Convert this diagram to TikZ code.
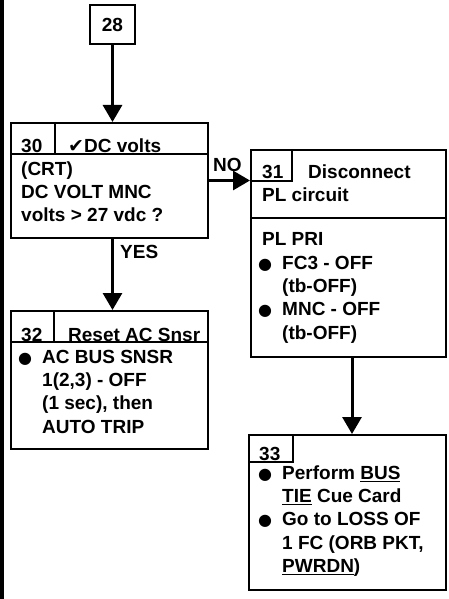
\documentclass[tikz,border=0pt]{standalone}
\usepackage{fontspec}
\setmainfont{Liberation Sans}
\newfontfamily\symfont{DejaVu Sans}
\usetikzlibrary{arrows.meta, positioning}
\newcommand{\bul}{\llap{{\symfont\mdseries\fontsize{16bp}{16bp}\selectfont ●}\hspace{10bp}}}

\begin{document}
\begin{tikzpicture}[x=1bp, y=-1bp,
    font=\fontsize{19bp}{23.3bp}\selectfont\bfseries,
    box/.style={draw, line width=2bp, inner sep=0pt},
    arr/.style={line width=3bp, -{Triangle[length=17bp,width=19bp]}},
    txt/.style={inner sep=0pt, align=left, anchor=north west},
    lbl/.style={inner sep=0pt, anchor=base west}]
  \useasboundingbox (0,0) rectangle (449,599);
  \draw[line width=4bp] (2,0) -- (2,599);

  % boxes
  \node[box, minimum width=45bp, minimum height=39bp] (b28) at (112.5,24.5) {28};
  \node[box, minimum width=197bp, minimum height=115bp] (b30) at (109.5,180.5) {};
  \node[box, minimum width=195bp, minimum height=207bp] (b31) at (348.5,253.5) {};
  \node[box, minimum width=197bp, minimum height=138bp] (b32) at (109.5,380) {};
  \node[box, minimum width=197bp, minimum height=155bp] (b33) at (347.5,512.5) {};

  % header rules
  \draw[line width=2bp] ([yshift=-32bp]b30.north west) -- ([yshift=-32bp]b30.north east);
  \draw[line width=2bp] ([xshift=45bp]b30.north west) -- ++(0,32);
  \draw[line width=2bp] ([yshift=-32bp]b32.north west) -- ([yshift=-32bp]b32.north east);
  \draw[line width=2bp] ([xshift=44bp]b32.north west) -- ++(0,32);
  \draw[line width=2bp] ([xshift=42bp]b31.north west) |- ([yshift=-32bp]b31.north west);
  \draw[line width=2bp] ([yshift=-69bp]b31.north west) -- ([yshift=-69bp]b31.north east);
  \draw[line width=2bp] ([xshift=45bp]b33.north west) |- ([yshift=-28bp]b33.north west);

  % texts
  \node[lbl] (n30) at (21,153) {30};
  \node[lbl] (h30) at (68,153) {{\symfont\mdseries ✔}DC volts};
  \node[txt] (t30) at (21,158.7) {\strut(CRT)\\DC VOLT MNC\\volts > 27 vdc ?};

  \node[lbl] (n31) at (262,179) {31};
  \node[lbl] (h31) at (308,179) {Disconnect};
  \node[lbl] (s31) at (262,201) {PL circuit};
  \node[lbl] (p31) at (262,245) {PL PRI};
  \node[txt] (t31) at (282,252.7) {\strut\bul FC3 - OFF\\(tb-OFF)\\\bul MNC - OFF\\(tb-OFF)};

  \node[lbl] (n32) at (21,341) {32};
  \node[lbl] (h32) at (68,341) {Reset AC Snsr};
  \node[txt] (t32) at (42,346.7) {\strut\bul AC BUS SNSR\\1(2,3) - OFF\\(1 sec), then\\AUTO TRIP};

  \node[lbl] (n33) at (259,460) {33};
  \node[txt] (t33) at (282,462.7) {\strut\bul Perform \underline{BUS}\\\underline{TIE} Cue Card\\\bul Go to LOSS OF\\1 FC (ORB PKT,\\\underline{PWRDN})};

  % connectors
  \draw[arr] (b28.south) -- (b28.south |- b30.north);
  \draw[arr] (b30.south -| b28.south) -- (b32.north -| b28.south);
  \draw[arr] (b30.east) -- (b30.east -| b31.west);
  \draw[arr] ([xshift=3.5bp]b31.south) -- ([xshift=3.5bp]b31.south |- b33.north);
  \node[lbl] (no) at (213,172) {NO};
  \node[lbl] (yes) at (120,258) {YES};
\end{tikzpicture}
\end{document}
